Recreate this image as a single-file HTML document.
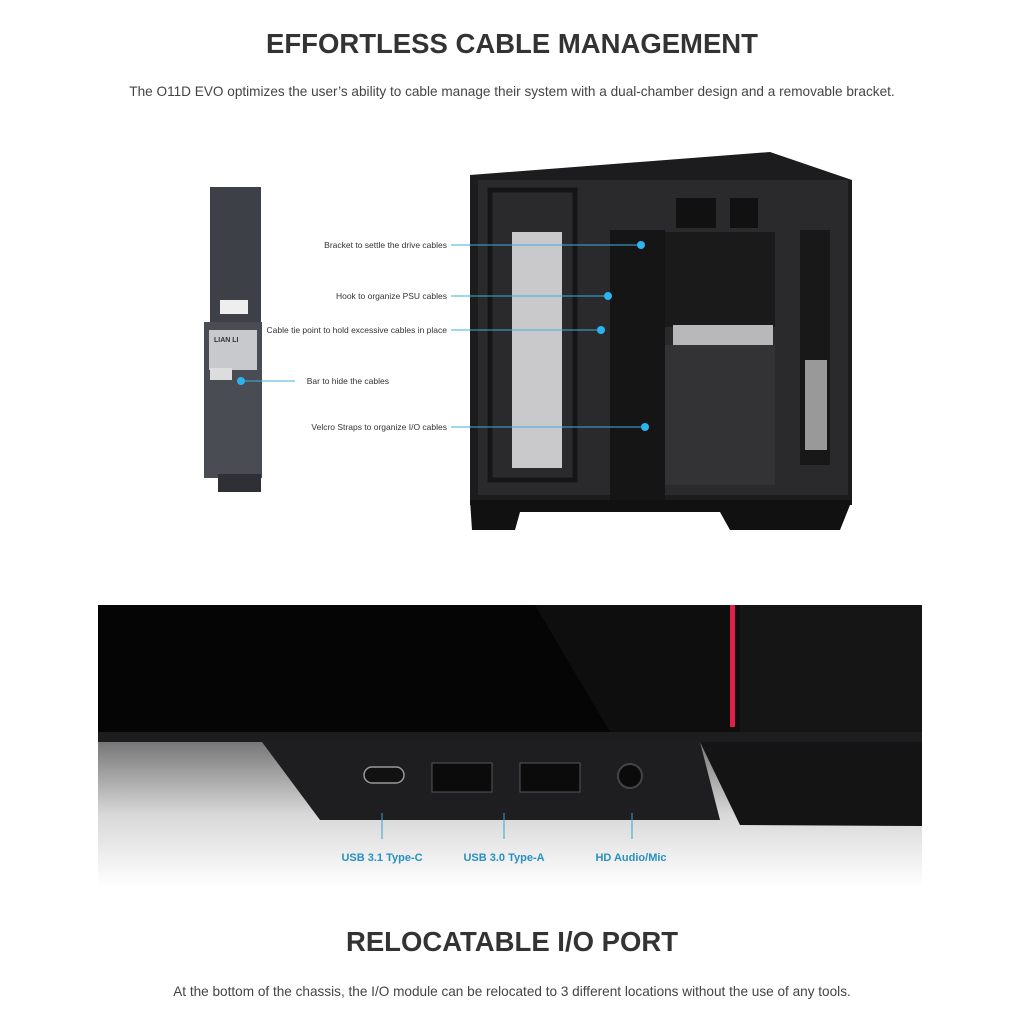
<!DOCTYPE html>
<html><head><meta charset="utf-8"><style>
body{margin:0;width:1024px;height:1024px;background:#fff;position:relative;overflow:hidden;font-family:"Liberation Sans",sans-serif}
.h{position:absolute;left:0;width:1024px;text-align:center;font-weight:bold;font-size:27.5px;color:#333}
.p{position:absolute;left:0;width:1024px;text-align:center;font-size:13.6px;color:#444}
</style></head><body>
<div class="h" style="top:28px">EFFORTLESS CABLE MANAGEMENT</div>
<div class="p" style="top:84px">The O11D EVO optimizes the user’s ability to cable manage their system with a dual-chamber design and a removable bracket.</div>
<svg style="position:absolute;left:0;top:0" width="1024" height="1024">
<rect x="210" y="187" width="51" height="140" fill="#3e4047"/>
<rect x="204" y="322" width="58" height="156" fill="#4a4c54"/>
<rect x="218" y="474" width="43" height="18" fill="#2e3036"/>
<rect x="220" y="300" width="28" height="14" fill="#eee"/>
<rect x="209" y="330" width="48" height="40" fill="#c8c9cc"/>
<text x="214" y="342" font-size="7" fill="#333" font-weight="bold">LIAN LI</text>
<rect x="210" y="368" width="22" height="12" fill="#ddd"/>
<polygon points="470,175 770,152 852,180 852,505 470,505" fill="#1c1c1e"/>
<rect x="478" y="180" width="370" height="315" fill="#2a2a2d"/>
<rect x="512" y="232" width="50" height="236" fill="#c9c9cc"/>
<rect x="490" y="190" width="85" height="290" fill="none" stroke="#151515" stroke-width="5"/>
<rect x="665" y="232" width="110" height="95" fill="#1a1a1a"/>
<rect x="673" y="325" width="100" height="22" fill="#b8b8bb"/>
<rect x="655" y="345" width="120" height="140" fill="#333336"/>
<rect x="800" y="230" width="30" height="235" fill="#181818"/>
<rect x="805" y="360" width="22" height="90" fill="#999"/>
<rect x="676" y="198" width="40" height="30" fill="#111"/>
<rect x="730" y="198" width="28" height="30" fill="#111"/>
<rect x="610" y="230" width="55" height="270" fill="#151515"/>
<polygon points="470,500 852,500 840,530 730,530 720,512 520,512 515,530 472,530" fill="#111"/>
<g stroke="#3ab0dd" stroke-width="1" fill="#2cb4ee">
<line x1="451" y1="245" x2="641" y2="245"/><circle cx="641" cy="245" r="4" stroke="none"/>
<line x1="451" y1="296" x2="608" y2="296"/><circle cx="608" cy="296" r="4" stroke="none"/>
<line x1="451" y1="330" x2="601" y2="330"/><circle cx="601" cy="330" r="4" stroke="none"/>
<line x1="241" y1="381" x2="295" y2="381"/><circle cx="241" cy="381" r="4" stroke="none"/>
<line x1="451" y1="427" x2="645" y2="427"/><circle cx="645" cy="427" r="4" stroke="none"/>
</g>
<g font-size="8.5" fill="#333" text-anchor="end" font-family="Liberation Sans Narrow,Liberation Sans,sans-serif">
<text x="447" y="248">Bracket to settle the drive cables</text>
<text x="447" y="299">Hook to organize PSU cables</text>
<text x="447" y="333">Cable tie point to hold excessive cables in place</text>
<text x="447" y="430">Velcro Straps to organize I/O cables</text>
<text x="389" y="384">Bar to hide the cables</text>
</g>
<defs><linearGradient id="g" x1="0" y1="0" x2="0" y2="1"><stop offset="0" stop-color="#777"/><stop offset="0.5" stop-color="#d8d8d8"/><stop offset="1" stop-color="#fff"/></linearGradient></defs>
<rect x="98" y="742" width="824" height="145" fill="url(#g)"/>
<rect x="98" y="605" width="824" height="130" fill="#050505"/>
<polygon points="535,605 740,605 740,732 610,732" fill="#0e0e0e"/>
<rect x="740" y="605" width="182" height="130" fill="#151515"/>
<rect x="730" y="605" width="5" height="122" fill="#e0204a"/>
<rect x="98" y="732" width="824" height="10" fill="#1d1d1f"/>
<polygon points="262,742 700,742 720,820 320,820" fill="#1e1e20"/>
<polygon points="700,742 922,742 922,826 740,825" fill="#141414"/>
<rect x="364" y="767" width="40" height="16" rx="8" fill="#111" stroke="#999" stroke-width="1.5"/>
<rect x="432" y="763" width="60" height="29" fill="#0b0b0b" stroke="#555"/>
<rect x="520" y="763" width="60" height="29" fill="#0b0b0b" stroke="#555"/>
<circle cx="630" cy="776" r="12" fill="#0b0b0b" stroke="#444" stroke-width="2"/>
<g stroke="#3aa0cc" stroke-width="1"><line x1="382" y1="813" x2="382" y2="839"/><line x1="504" y1="813" x2="504" y2="839"/><line x1="632" y1="813" x2="632" y2="839"/></g>
<g font-size="11" font-weight="bold" fill="#2a90c0" text-anchor="middle"><text x="382" y="861">USB 3.1 Type-C</text><text x="504" y="861">USB 3.0 Type-A</text><text x="631" y="861">HD Audio/Mic</text></g>
</svg>
<div class="h" style="top:926px">RELOCATABLE I/O PORT</div>
<div class="p" style="top:984px">At the bottom of the chassis, the I/O module can be relocated to 3 different locations without the use of any tools.</div>
</body></html>
